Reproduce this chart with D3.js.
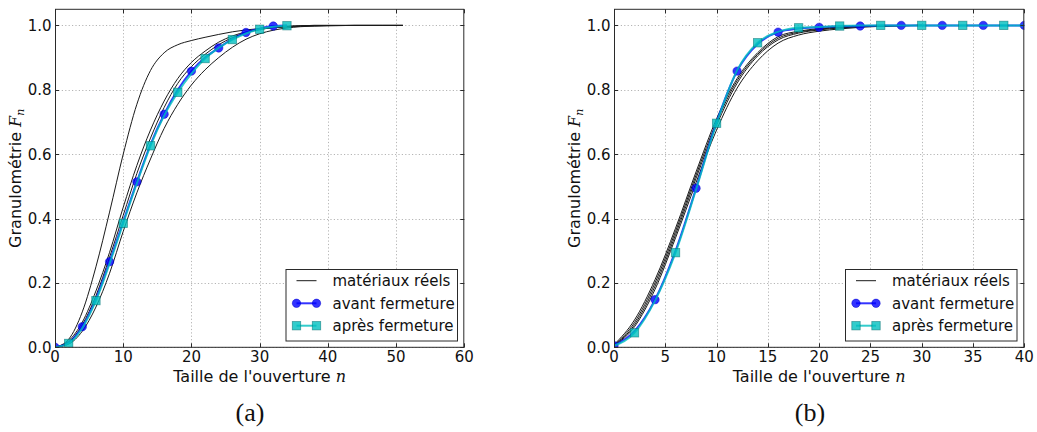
<!DOCTYPE html>
<html><head><meta charset="utf-8">
<script src="https://cdnjs.cloudflare.com/ajax/libs/d3/7.8.5/d3.min.js"></script>
<style>
html,body{margin:0;padding:0;background:#fff;}
</style></head>
<body><svg id="c" width="1037" height="432" font-family="DejaVu Sans, sans-serif"></svg>
<script>
// ---------- data: panel (a) ----------
const realNA = [0,2,4,6,8,10,12,14,16,18,20,22,24,26,28,30,32,34,36,38,40,44,48,51];
const realA1 = [0,0.025,0.11,0.25,0.42,0.6,0.755,0.86,0.915,0.94,0.953,0.963,0.972,0.98,0.986,0.99,0.993,0.995,0.997,0.998,0.999,1,1,1];
const realA2 = [0,0.02,0.078,0.175,0.295,0.435,0.565,0.675,0.765,0.835,0.885,0.92,0.948,0.967,0.98,0.989,0.994,0.997,0.999,1,1,1,1,1];
const realA3 = [0,0.016,0.07,0.16,0.28,0.41,0.54,0.65,0.745,0.82,0.872,0.91,0.94,0.962,0.977,0.987,0.993,0.997,0.999,1,1,1,1,1];
const realA4 = [0,0.01,0.05,0.125,0.23,0.36,0.48,0.585,0.68,0.755,0.815,0.862,0.9,0.932,0.957,0.974,0.985,0.992,0.996,0.998,0.999,1,1,1];
const avantNA = [0,2,4,6,8,10,12,14,16,18,20,22,24,26,28,30,32,34];
const avantA  = [0,0.015,0.064,0.15,0.266,0.39,0.514,0.63,0.724,0.80,0.858,0.90,0.930,0.958,0.978,0.99,0.998,1.0];
const apresNA = [0,2,4,6,8,10,12,14,16,18,20,22,24,26,28,30,32,34];
const apresA  = [0,0.012,0.06,0.145,0.26,0.385,0.51,0.626,0.72,0.792,0.85,0.897,0.93,0.956,0.975,0.988,0.996,0.999];

// ---------- data: panel (b) ----------
const realNB = [0,2,4,6,8,10,12,14,16,18,20,22,24,27,30];
const realB1 = [0.008,0.085,0.21,0.37,0.545,0.71,0.835,0.915,0.965,0.982,0.99,0.995,0.997,0.999,1];
const realB2 = [0.006,0.077,0.2,0.36,0.535,0.70,0.828,0.91,0.96,0.979,0.988,0.994,0.996,0.999,1];
const realB3 = [0.005,0.07,0.19,0.35,0.525,0.69,0.82,0.905,0.955,0.976,0.986,0.992,0.996,0.999,1];
const realB4 = [0.004,0.064,0.18,0.34,0.512,0.675,0.805,0.89,0.945,0.97,0.982,0.989,0.994,0.998,1];
const avantNB = [0,2,4,6,8,10,12,14,16,18,20,22,24,26,28,30,32,34,36,38,40];
const avantB  = [0.005,0.05,0.148,0.30,0.494,0.70,0.858,0.942,0.979,0.99,0.994,0.997,0.998,1,1,1,1,1,1,1,1];
const apresNB = [0,2,4,6,8,10,12,14,16,18,20,22,24,26,28,30,32,34,36,38,40];
const apresB  = [0.005,0.045,0.145,0.294,0.49,0.696,0.86,0.946,0.98,0.9925,0.995,0.998,1,1,1,1,1,1,1,1,1];

const yTicks = [0,0.2,0.4,0.6,0.8,1.0];
const xTicksA = [0,10,20,30,40,50,60];
const xTicksB = [0,5,10,15,20,25,30,35,40];
const legendLabels = ["matériaux réels","avant fermeture","après fermeture"];
const captions = ["(a)","(b)"];

const svg = d3.select("#c");
const yTop = 9.3, yBot = 347.3;
const FS_TICK = 15, FS_LAB = 16, FS_LEG = 15;

function panel(cfg){
  const g = svg.append("g");
  const x = d3.scaleLinear().domain(cfg.xdom).range([cfg.left, cfg.right]);
  const y = d3.scaleLinear().domain([0,1.05]).range([yBot, yTop]);
  const id = "clip"+cfg.key;
  g.append("clipPath").attr("id",id).append("rect")
    .attr("x",cfg.left).attr("y",yTop).attr("width",cfg.right-cfg.left).attr("height",yBot-yTop);
  // grid
  const grid = g.append("g").attr("stroke","#b5b5b5").attr("stroke-width",1).attr("stroke-dasharray","1.2,2.2");
  cfg.xticks.forEach(t=>{ const px=Math.round(x(t))+0.5; if(t>cfg.xdom[0]&&t<cfg.xdom[1]) grid.append("line").attr("x1",px).attr("x2",px).attr("y1",yTop).attr("y2",yBot);});
  yTicks.forEach(t=>{ const py=Math.round(y(t))+0.5; grid.append("line").attr("x1",cfg.left).attr("x2",cfg.right).attr("y1",py).attr("y2",py);});
  const plot = g.append("g").attr("clip-path",`url(#${id})`);
  const line = (xs,ys)=> d3.line().x((d,i)=>x(xs[i])).y(d=>y(d)).curve(d3.curveMonotoneX)(ys);
  cfg.real.forEach(r=>{
    plot.append("path").attr("d",line(cfg.realN,r)).attr("fill","none").attr("stroke","#1a1a1a").attr("stroke-width",1);
  });
  // avant
  plot.append("path").attr("d",line(cfg.avN,cfg.av)).attr("fill","none").attr("stroke","rgb(0,0,255)").attr("stroke-opacity",0.8).attr("stroke-width",2);
  plot.selectAll(".c").data(cfg.av.map((v,i)=>[cfg.avN[i],v]).filter(d=>d[0]%4===0)).join("circle")
    .attr("cx",d=>x(d[0])).attr("cy",d=>y(d[1])).attr("r",4.2)
    .attr("fill","rgb(0,0,255)").attr("fill-opacity",0.8).attr("stroke","rgb(0,0,200)").attr("stroke-opacity",0.6).attr("stroke-width",0.8);
  // apres
  plot.append("path").attr("d",line(cfg.apN,cfg.ap)).attr("fill","none").attr("stroke","rgb(0,191,191)").attr("stroke-opacity",0.8).attr("stroke-width",2);
  plot.selectAll(".s").data(cfg.ap.map((v,i)=>[cfg.apN[i],v]).filter(d=>d[0]%4===2)).join("rect")
    .attr("x",d=>x(d[0])-4.2).attr("y",d=>y(d[1])-4.2).attr("width",8.4).attr("height",8.4)
    .attr("fill","rgb(0,191,191)").attr("fill-opacity",0.8).attr("stroke","rgb(0,110,110)").attr("stroke-opacity",0.6).attr("stroke-width",0.8);
  // frame
  g.append("rect").attr("x",cfg.left+0.5).attr("y",yTop).attr("width",cfg.right-cfg.left-1).attr("height",yBot-yTop)
    .attr("fill","none").attr("stroke","#2a2a2a").attr("stroke-width",1);
  // ticks (inside, all sides)
  const tk = g.append("g").attr("stroke","#2a2a2a").attr("stroke-width",1);
  cfg.xticks.forEach(t=>{ const px=Math.round(x(t))+0.5;
    tk.append("line").attr("x1",px).attr("x2",px).attr("y1",yBot).attr("y2",yBot-4);
    tk.append("line").attr("x1",px).attr("x2",px).attr("y1",yTop).attr("y2",yTop+4);
    g.append("text").attr("x",x(t)).attr("y",yBot+14.5).attr("text-anchor","middle").attr("font-size",FS_TICK).attr("fill","#111").text(t);
  });
  yTicks.forEach(t=>{ const py=Math.round(y(t))+0.5;
    tk.append("line").attr("x1",cfg.left).attr("x2",cfg.left+4).attr("y1",py).attr("y2",py);
    tk.append("line").attr("x1",cfg.right).attr("x2",cfg.right-4).attr("y1",py).attr("y2",py);
    g.append("text").attr("x",cfg.left-3.5).attr("y",y(t)+5.5).attr("text-anchor","end").attr("font-size",FS_TICK).attr("fill","#111").text(d3.format(".1f")(t));
  });
  // axis labels
  const xl = g.append("text").attr("x",(cfg.left+cfg.right)/2).attr("y",382).attr("text-anchor","middle").attr("font-size",FS_LAB).attr("fill","#111");
  xl.append("tspan").text("Taille de l'ouverture ");
  xl.append("tspan").style("font-family","'DejaVu Serif', serif").style("font-style","italic").text("n");
  const yl = g.append("text").attr("transform",`translate(${cfg.left-34},${(yTop+yBot)/2}) rotate(-90)`).attr("text-anchor","middle").attr("font-size",FS_LAB).attr("fill","#111");
  yl.append("tspan").text("Granulométrie ");
  yl.append("tspan").style("font-family","'DejaVu Serif', serif").style("font-style","italic").text("F");
  yl.append("tspan").style("font-family","'DejaVu Serif', serif").style("font-style","italic").attr("font-size",11).attr("dy",3).text("n");
  // legend
  const L = cfg.legLeft, lt = 269, lw = 171.5, lh = 71.5;
  const lg = g.append("g");
  lg.append("rect").attr("x",L+0.5).attr("y",lt+0.5).attr("width",lw).attr("height",lh).attr("fill","#fff").attr("stroke","#2a2a2a").attr("stroke-width",1);
  const rows=[280.7,303.3,325.7];
  const sx0=L+11, sx1=L+31;
  lg.append("line").attr("x1",sx0).attr("x2",sx1).attr("y1",rows[0]).attr("y2",rows[0]).attr("stroke","#1a1a1a").attr("stroke-width",1);
  lg.append("line").attr("x1",sx0).attr("x2",sx1).attr("y1",rows[1]).attr("y2",rows[1]).attr("stroke","rgb(0,0,255)").attr("stroke-opacity",0.8).attr("stroke-width",2);
  [sx0,sx1].forEach(px=>lg.append("circle").attr("cx",px).attr("cy",rows[1]).attr("r",4.2).attr("fill","rgb(0,0,255)").attr("fill-opacity",0.8).attr("stroke","rgb(0,0,200)").attr("stroke-opacity",0.6).attr("stroke-width",0.8));
  lg.append("line").attr("x1",sx0).attr("x2",sx1).attr("y1",rows[2]).attr("y2",rows[2]).attr("stroke","rgb(0,191,191)").attr("stroke-opacity",0.8).attr("stroke-width",2);
  [sx0,sx1].forEach(px=>lg.append("rect").attr("x",px-4.2).attr("y",rows[2]-4.2).attr("width",8.4).attr("height",8.4).attr("fill","rgb(0,191,191)").attr("fill-opacity",0.8).attr("stroke","rgb(0,110,110)").attr("stroke-opacity",0.6).attr("stroke-width",0.8));
  legendLabels.forEach((t,i)=>lg.append("text").attr("x",L+47).attr("y",rows[i]+5.5).attr("font-size",FS_LEG).attr("fill","#111").text(t));
  // caption
  svg.append("text").attr("x",cfg.capX).attr("y",421).attr("text-anchor","middle").style("font-family","'Liberation Serif', serif").attr("font-size",26).attr("fill","#111").text(cfg.caption);
}

panel({key:"a",left:55,right:464.3,xdom:[0,60],xticks:xTicksA,realN:realNA,real:[realA1,realA2,realA3,realA4],
  avN:avantNA,av:avantA,apN:apresNA,ap:apresA,legLeft:285.5,capX:250,caption:captions[0]});
panel({key:"b",left:614,right:1024.3,xdom:[0,40],xticks:xTicksB,realN:realNB,real:[realB1,realB2,realB3,realB4],
  avN:avantNB,av:avantB,apN:apresNB,ap:apresB,legLeft:845,capX:810,caption:captions[1]});
</script></body></html>
